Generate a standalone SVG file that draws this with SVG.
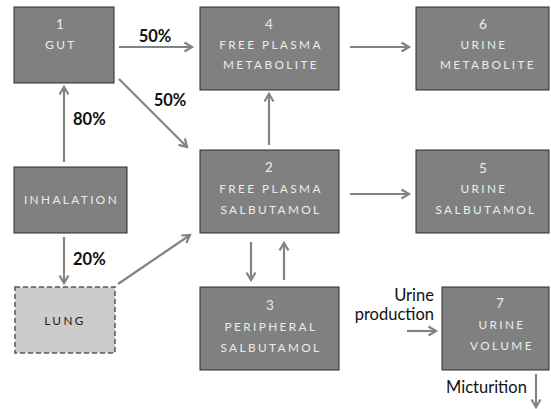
<svg xmlns="http://www.w3.org/2000/svg" width="551" height="409" viewBox="0 0 551 409">
<defs>
<style>
.box{fill:#808080;stroke:#2b2b2b;stroke-width:1}
.lung{fill:#cccccc;stroke:#555555;stroke-width:1.5;stroke-dasharray:5,3}
.nt{font-family:Lato,"Open Sans",sans-serif;font-size:11.8px;letter-spacing:2.4px;fill:#ececec;text-anchor:middle}
.num{font-size:13.5px;letter-spacing:0}
.dark{fill:#1e1e1e}
.lbl{font-family:Lato,"Open Sans",sans-serif;font-size:16.5px;font-weight:bold;fill:#111111}
.side{font-family:Lato,"Open Sans",sans-serif;font-size:16.5px;fill:#111111}
.arr{stroke:#838383;stroke-width:2.2;fill:none;marker-end:url(#ah)}
</style>
<marker id="ah" markerWidth="12" markerHeight="12" refX="9" refY="6" orient="auto" markerUnits="userSpaceOnUse">
<path d="M1.5,1.5 L9,6 L1.5,10.5" fill="none" stroke="#838383" stroke-width="2.2"/>
</marker>
</defs>
<g id="connectors">
<line class="arr" x1="64" y1="162" x2="64" y2="87"/>
<line class="arr" x1="64" y1="237" x2="64" y2="283"/>
<line class="arr" x1="119" y1="47" x2="192" y2="47"/>
<line class="arr" x1="119" y1="79" x2="187" y2="147"/>
<line class="arr" x1="118" y1="284" x2="190" y2="235"/>
<line class="arr" x1="269" y1="145" x2="269" y2="94"/>
<line class="arr" x1="350" y1="47" x2="409" y2="47"/>
<line class="arr" x1="350" y1="194" x2="409" y2="194"/>
<line class="arr" x1="251" y1="242" x2="251" y2="280"/>
<line class="arr" x1="284" y1="280" x2="284" y2="243"/>
<line class="arr" x1="407" y1="331" x2="436" y2="331"/>
<line class="arr" x1="536" y1="374" x2="536" y2="407"/>
<text class="lbl" x="155" y="42" text-anchor="middle">50%</text>
<text class="lbl" x="170" y="106" text-anchor="middle">50%</text>
<text class="lbl" x="73" y="125">80%</text>
<text class="lbl" x="73" y="265">20%</text>
<text class="side" x="434" y="301" text-anchor="end">Urine</text>
<text class="side" x="434" y="320" text-anchor="end">production</text>
<text class="side" x="446" y="393">Micturition</text>
</g>
<g id="node1">
<rect class="box" x="14" y="7" width="100" height="76"/>
<text class="nt num" x="60" y="29">1</text>
<text class="nt" x="61" y="49">GUT</text>
</g>
<g id="node4">
<rect class="box" x="200" y="7" width="139" height="83"/>
<text class="nt num" x="269" y="29">4</text>
<text class="nt" x="271" y="49">FREE PLASMA</text>
<text class="nt" x="271" y="69">METABOLITE</text>
</g>
<g id="node6">
<rect class="box" x="416" y="7" width="133" height="83"/>
<text class="nt num" x="483" y="29">6</text>
<text class="nt" x="484" y="49">URINE</text>
<text class="nt" x="488" y="69">METABOLITE</text>
</g>
<g id="inhalation">
<rect class="box" x="14" y="167" width="113" height="66"/>
<text class="nt" x="71.5" y="204">INHALATION</text>
</g>
<g id="node2">
<rect class="box" x="200" y="150" width="139" height="83"/>
<text class="nt num" x="269" y="172">2</text>
<text class="nt" x="271" y="193">FREE PLASMA</text>
<text class="nt" x="271" y="214">SALBUTAMOL</text>
</g>
<g id="node5">
<rect class="box" x="416" y="150" width="133" height="83"/>
<text class="nt num" x="483" y="173">5</text>
<text class="nt" x="484" y="193">URINE</text>
<text class="nt" x="486" y="214">SALBUTAMOL</text>
</g>
<g id="lung">
<rect class="lung" x="15" y="287" width="100" height="66"/>
<text class="nt dark" x="65" y="325">LUNG</text>
</g>
<g id="node3">
<rect class="box" x="200" y="287" width="139" height="83"/>
<text class="nt num" x="270" y="310">3</text>
<text class="nt" x="271" y="331">PERIPHERAL</text>
<text class="nt" x="271" y="352">SALBUTAMOL</text>
</g>
<g id="node7">
<rect class="box" x="442" y="287" width="107" height="83"/>
<text class="nt num" x="500" y="308">7</text>
<text class="nt" x="502" y="329">URINE</text>
<text class="nt" x="502" y="350">VOLUME</text>
</g>
</svg>
